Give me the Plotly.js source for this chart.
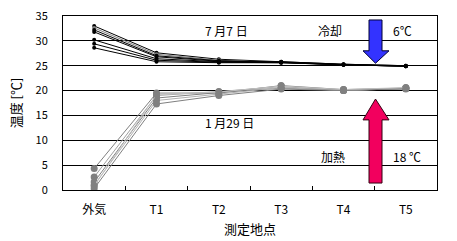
<!DOCTYPE html>
<html><head><meta charset="utf-8">
<script src="https://cdn.plot.ly/plotly-3.0.1.min.js"></script>
<style>body{margin:0;background:#fff}#c{width:457px;height:241px}</style>
</head><body><div id="c"></div>
<script>
const categories = ["外気", "T1", "T2", "T3", "T4", "T5"];
const yTicks = [0, 5, 10, 15, 20, 25, 30, 35];

// 7月7日 (cooling)
const summer1 = [33.0, 27.6, 26.3, 25.8, 25.3, 25.0];
const summer2 = [32.6, 27.3, 26.1, 25.7, 25.2, 25.0];
const summer3 = [32.2, 27.0, 26.0, 25.7, 25.2, 24.9];
const summer4 = [31.8, 26.8, 25.9, 25.8, 25.3, 25.0];
const summer5 = [30.2, 26.4, 25.8, 25.7, 25.2, 24.9];
const summer6 = [29.4, 26.1, 25.7, 25.6, 25.2, 24.9];
const summer7 = [28.6, 25.8, 25.6, 25.6, 25.2, 24.9];

// 1月29日 (heating)
const winter1 = [4.3, 19.5, 19.5, 21.0, 20.2, 20.5];
const winter2 = [2.6, 19.0, 19.8, 20.8, 20.0, 20.4];
const winter3 = [1.6, 18.5, 19.6, 20.5, 20.1, 20.3];
const winter4 = [1.0, 18.0, 19.3, 20.6, 20.0, 20.5];
const winter5 = [0.3, 17.3, 19.0, 20.3, 20.0, 20.4];
const winter6 = [0.8, 19.2, 19.7, 20.9, 20.2, 20.6];

const summerSeries = [
  {y: summer1, c: "#000000"}, {y: summer2, c: "#808080"}, {y: summer3, c: "#000000"},
  {y: summer4, c: "#000000"}, {y: summer5, c: "#000000"}, {y: summer6, c: "#000000"},
  {y: summer7, c: "#000000"}
];
const winterSeries = [
  {y: winter1, c: "#808080"}, {y: winter2, c: "#a0a0a0"}, {y: winter3, c: "#808080"},
  {y: winter4, c: "#b0b0b0"}, {y: winter5, c: "#808080"}, {y: winter6, c: "#c0c0c0"}
];

const traces = [];
winterSeries.forEach(s => traces.push({
  x: categories, y: s.y, type: "scatter", mode: "lines+markers",
  line: {color: s.c, width: 1}, marker: {color: "#808080", size: 7}, hoverinfo: "skip"
}));
summerSeries.forEach(s => traces.push({
  x: categories, y: s.y, type: "scatter", mode: "lines+markers",
  line: {color: s.c, width: 1}, marker: {color: s.c, size: 4}, hoverinfo: "skip"
}));

const F = "'Noto Sans CJK JP', 'DejaVu Sans', sans-serif";
const PL = 63, PW = 374;
const px = v => (v - PL) / PW;
const x0 = px(369), x1 = px(382), hx0 = px(363), hx1 = px(389), xm = (x0 + x1) / 2;
const ann = (text, left, y) => ({text, xref: "paper", yref: "y", x: px(left), y,
  xanchor: "left", showarrow: false, font: {family: F, size: 12}});
const layout = {
  width: 457, height: 241,
  margin: {l: 63, r: 20, t: 16, b: 51},
  paper_bgcolor: "#fff", plot_bgcolor: "#fff",
  showlegend: false,
  font: {family: F, size: 11, color: "#000"},
  xaxis: {
    type: "category", range: [-0.5, 5.5], tickson: "boundaries",
    ticks: "inside", ticklen: 4, tickcolor: "#000",
    showline: true, linecolor: "#000", linewidth: 1, mirror: true,
    showgrid: false, zeroline: false, ticklabelstandoff: 9,
    tickfont: {family: F, size: 12},
    title: {text: "測定地点", font: {family: F, size: 13}, standoff: 8}
  },
  yaxis: {
    range: [0, 35], tickvals: yTicks, ticks: "", ticklabelstandoff: 12,
    showline: true, linecolor: "#000", linewidth: 1, mirror: true,
    showgrid: true, gridcolor: "#000", gridwidth: 1, zeroline: false,
    tickfont: {family: F, size: 11},
    title: {text: "温度 [℃]", font: {family: F, size: 13}, standoff: 11}
  },
  shapes: [
    {type: "path", xref: "paper", yref: "y", layer: "above",
     path: `M ${x0} 34.2 L ${x1} 34.2 L ${x1} 28.0 L ${hx1} 28.0 L ${xm} 25.5 L ${hx0} 28.0 L ${x0} 28.0 Z`,
     fillcolor: "#3333ff", line: {color: "#000033", width: 1}},
    {type: "path", xref: "paper", yref: "y", layer: "above",
     path: `M ${x0} 1.4 L ${x1} 1.4 L ${x1} 14.1 L ${hx1} 14.1 L ${xm} 18.3 L ${hx0} 14.1 L ${x0} 14.1 Z`,
     fillcolor: "#f2005e", line: {color: "#330011", width: 1}}
  ],
  annotations: [
    ann("7 月7 日", 203, 32.0),
    ann("冷却", 316, 32.0),
    ann("6℃", 391, 32.0),
    ann("1 月29 日", 203, 13.5),
    ann("加熱", 319, 6.7),
    ann("18 ℃", 391, 6.7)
  ]
};
Plotly.newPlot("c", traces, layout, {staticPlot: true, displayModeBar: false});
</script></body></html>
